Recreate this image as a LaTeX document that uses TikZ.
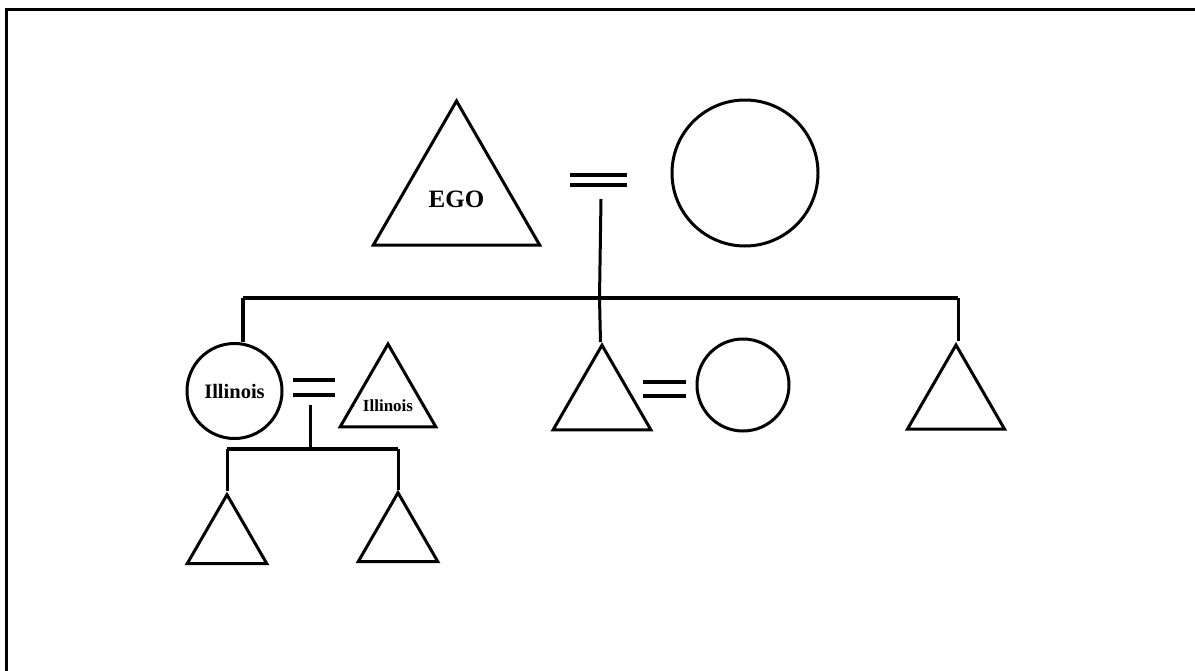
\documentclass[tikz,border=0pt]{standalone}
\usepackage{fontspec}
\setmainfont{Liberation Serif}
\usetikzlibrary{shapes.geometric}
\begin{document}
\begin{tikzpicture}[x=1pt,y=-1pt,
  tri/.style={draw, regular polygon, regular polygon sides=3, inner sep=0pt, outer sep=0pt, line width=3pt, line join=miter},
  circ/.style={draw, circle, inner sep=0pt, outer sep=0pt, line width=3pt},
  lbl/.style={inner sep=0pt},
  link/.style={line width=3pt},
  bar/.style={line width=4pt},
  eqline/.style={line width=4pt},
  frame/.style={line width=3.5pt}]
\clip (0,0) rectangle (1195,670);
\fill[white] (0,0) rectangle (1195,670);
% frame
\draw[frame] (1200,9.5) -- (6.5,9.5) -- (6.5,680);

% generation 1
\node[tri, minimum size=192pt] (ego) at (456.5,197) {};
\node[lbl, font=\fontsize{25}{25}\selectfont\bfseries] (egotxt) at (456.5,199) {EGO};
\node[circ, minimum size=146pt] (wife) at (745,173) {};
\coordinate (e1a) at (570,175); \coordinate (e1b) at (627,175);
\coordinate (e1c) at (570,185); \coordinate (e1d) at (627,185);
\draw[eqline] (e1a) -- (e1b);
\draw[eqline] (e1c) -- (e1d);
\coordinate (m1) at (601,199);
\coordinate (j1) at (599.5,298);
\draw[link] (m1) -- (j1);

% sibling bar
\coordinate (b1l) at (243,298);
\coordinate (b1r) at (958,298);
\draw[bar] (b1l) -- (b1r);

% generation 2
\node[circ, minimum size=95pt] (ill) at (234.5,391) {};
\node[lbl, font=\fontsize{20.5}{20.5}\selectfont\bfseries] (illtxt) at (234.5,391) {Illinois};
\node[tri, minimum size=110.6pt] (illh) at (388,399.3) {};
\node[lbl, font=\fontsize{17}{17}\selectfont\bfseries] (illhtxt) at (388,406) {Illinois};
\node[tri, minimum size=113pt] (mid) at (602,401.7) {};
\node[circ, minimum size=92pt] (midw) at (743,385) {};
\node[tri, minimum size=112pt] (rt) at (956,401) {};

\draw[line width=4.5pt] (b1l) -- (243,341.5);
\draw[link] (599.5,298) -- (600.5,342);
\draw[link] (b1r) -- (958,341);

\coordinate (e2a) at (293,380); \coordinate (e2b) at (335,380);
\coordinate (e2c) at (293,395); \coordinate (e2d) at (335,395);
\draw[eqline] (e2a) -- (e2b);
\draw[eqline] (e2c) -- (e2d);
\coordinate (e3a) at (643,382); \coordinate (e3b) at (686,382);
\coordinate (e3c) at (643,396); \coordinate (e3d) at (686,396);
\draw[eqline] (e3a) -- (e3b);
\draw[eqline] (e3c) -- (e3d);

% generation 3
\coordinate (m2) at (310,405);
\coordinate (j2) at (310,449);
\draw[link] (m2) -- (j2);
\coordinate (b2l) at (227,449);
\coordinate (b2r) at (398,449);
\draw[bar] (b2l) -- (b2r);
\node[tri, minimum size=92pt] (c1) at (227,540.7) {};
\node[tri, minimum size=92pt] (c2) at (398,538.7) {};
\draw[link] (b2l) -- (227,491);
\draw[link] (b2r) -- (398,490);
\end{tikzpicture}
\end{document}
